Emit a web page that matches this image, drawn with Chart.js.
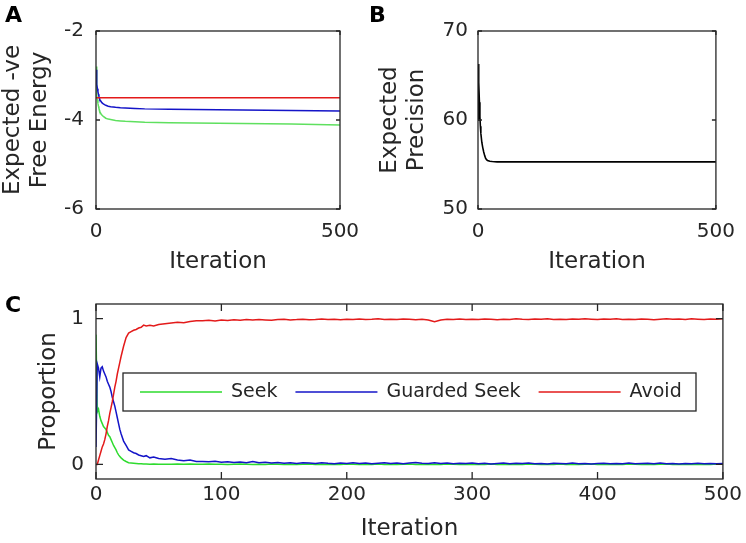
<!DOCTYPE html>
<html><head><meta charset="utf-8">
<script src="https://cdn.jsdelivr.net/npm/chart.js@4.4.0/dist/chart.umd.min.js"></script>
<style>
html,body{margin:0;padding:0;background:#fff;}
body{width:746px;height:543px;position:relative;overflow:hidden;font-family:'DejaVu Sans';}
canvas{position:absolute;}
.lab{position:absolute;font:bold 22px 'DejaVu Sans';line-height:1;color:#000;}
</style></head><body>
<canvas id="cA" width="375" height="290" style="left:-2px;top:0px"></canvas>
<canvas id="cB" width="373" height="290" style="left:373px;top:0px"></canvas>
<canvas id="cC" width="746" height="263" style="left:0px;top:280px"></canvas>
<div class="lab" style="left:5px;top:4px">A</div>
<div class="lab" style="left:369px;top:4px">B</div>
<div class="lab" style="left:5px;top:294px">C</div>
<script>
// ---- Panel A: expected negative free energy ----
const itersA = [0,1,2,3,4,5,6,8,10,12,15,20,25,30,40,50,60,80,100,150,200,250,300,350,400,450,500];
const energySeek = [-2.8,-3.3,-3.45,-3.55,-3.63,-3.69,-3.74,-3.81,-3.86,-3.89,-3.92,-3.96,-3.98,-3.99,-4.01,-4.02,-4.03,-4.04,-4.05,-4.06,-4.07,-4.075,-4.08,-4.085,-4.09,-4.1,-4.11];
const energyGuarded = [-2.87,-3.08,-3.2,-3.3,-3.37,-3.42,-3.47,-3.54,-3.58,-3.61,-3.64,-3.67,-3.69,-3.70,-3.715,-3.725,-3.73,-3.74,-3.75,-3.76,-3.765,-3.77,-3.775,-3.78,-3.785,-3.79,-3.80];
const energyAvoid = [-3.5,-3.5,-3.5,-3.5,-3.5,-3.5,-3.5,-3.5,-3.5,-3.5,-3.5,-3.5,-3.5,-3.5,-3.5,-3.5,-3.5,-3.5,-3.5,-3.5,-3.5,-3.5,-3.5,-3.5,-3.5,-3.5,-3.5];
const xTicksA = [0,500];
const yTicksA = [-6,-4,-2];

// ---- Panel B: expected precision ----
const itersB = [0,1,2,3,4,5,6,8,10,12,14,16,18,20,25,30,40,60,100,200,300,400,500];
const precision = [60.0,66.3,64.2,62.0,60.4,59.3,58.5,57.5,56.9,56.4,56.0,55.7,55.55,55.45,55.37,55.33,55.3,55.3,55.3,55.3,55.3,55.3,55.3];
const xTicksB = [0,500];
const yTicksB = [50,60,70];

// ---- Panel C: proportion of policies ----
const itersC = [0,1,2,3,4,5,6,7,8,9,10,11,12,13,14,15,16,17,18,19,20,
  22,24,26,28,30,32,34,36,38,40,43,46,50,
  55,60,65,70,75,80,85,90,95,100,105,110,115,120,125,130,135,140,145,150,155,160,165,170,175,180,185,190,195,200,
  205,210,215,220,225,230,235,240,245,250,255,260,265,270,275,280,285,290,295,300,305,310,315,320,325,330,335,340,345,350,
  355,360,365,370,375,380,385,390,395,400,405,410,415,420,425,430,435,440,445,450,455,460,465,470,475,480,485,490,495,500];
const propSeek = [0.89,0.36,0.38,0.33,0.30,0.28,0.26,0.25,0.24,0.22,0.20,0.19,0.17,0.15,0.13,0.115,0.10,0.08,0.065,0.055,0.045,
  0.03,0.02,0.012,0.01,0.008,0.006,0.004,0.005,0.003,0.003,0.002,0.003,0.002,
  0.002,0.001,0.002,0.001,0.002,0.001,0.001,0.002,0.001,0.001,0,0.001,0.002,0.001,0,0.001,0,0.002,0.001,0,0.001,0,0.001,0.002,0,0.001,0,0.001,0,0.002,
  0.001,0,0.001,0,0.002,0,0.001,0,0.001,0.002,0,0.001,0,0.001,0,0.002,0.001,0,0.001,0,0.001,0,0.002,0,0.001,0,0.001,0,0.002,0.001,
  0,0.001,0,0.002,0,0.001,0,0.001,0.002,0,0.001,0,0.001,0,0.002,0.001,0,0.001,0,0.001,0.002,0,0.001,0,0.001,0,0.001,0,0.002,0.001];
const propGuarded = [0.12,0.69,0.66,0.60,0.66,0.67,0.64,0.62,0.60,0.57,0.55,0.53,0.50,0.46,0.43,0.40,0.36,0.32,0.28,0.24,0.21,
  0.16,0.13,0.10,0.09,0.08,0.075,0.065,0.06,0.055,0.06,0.045,0.05,0.04,
  0.035,0.04,0.03,0.025,0.03,0.02,0.02,0.018,0.022,0.015,0.019,0.013,0.017,0.012,0.02,0.011,0.014,0.009,0.013,0.008,0.012,0.007,0.011,0.009,0.006,0.012,0.008,0.005,0.01,0.007,
  0.011,0.006,0.009,0.004,0.008,0.012,0.007,0.01,0.005,0.009,0.013,0.008,0.006,0.011,0.007,0.009,0.004,0.008,0.006,0.01,0.005,0.008,0.003,0.007,0.009,0.004,0.008,0.006,0.01,0.005,
  0.007,0.003,0.008,0.006,0.004,0.009,0.005,0.007,0.003,0.006,0.008,0.004,0.007,0.005,0.009,0.004,0.006,0.008,0.005,0.01,0.004,0.006,0.003,0.007,0.005,0.008,0.004,0.006,0.005,0.007];
const propAvoid = [0,0,0.03,0.06,0.09,0.12,0.14,0.17,0.21,0.26,0.30,0.35,0.39,0.43,0.48,0.53,0.57,0.62,0.66,0.70,0.74,
  0.81,0.87,0.90,0.91,0.92,0.925,0.935,0.94,0.955,0.95,0.955,0.95,0.96,
  0.965,0.97,0.975,0.972,0.98,0.985,0.985,0.988,0.983,0.99,0.987,0.992,0.989,0.993,0.99,0.994,0.991,0.988,0.993,0.995,0.991,0.993,0.996,0.992,0.994,0.997,0.993,0.995,0.992,0.996,
  0.994,0.997,0.993,0.995,0.998,0.994,0.996,0.993,0.997,0.995,0.992,0.996,0.99,0.978,0.99,0.995,0.993,0.997,0.994,0.996,0.993,0.997,0.995,0.992,0.996,0.994,0.998,0.995,0.993,0.997,
  0.995,0.998,0.994,0.996,0.993,0.997,0.995,0.998,0.996,0.993,0.997,0.995,0.998,0.994,0.996,0.993,0.997,0.995,0.992,0.996,0.998,0.995,0.997,0.994,0.998,0.996,0.993,0.997,0.995,0.998];
const xTicksC = [0,100,200,300,400,500];
const yTicksC = [0,1];
const seriesNames = ['Seek','Guarded Seek','Avoid'];

// ---- helpers ----
const INK = '#262626';
const FONT = 'DejaVu Sans';
Chart.defaults.font.family = FONT;
Chart.defaults.color = INK;

const pts = (xs, ys) => xs.map((x, i) => ({x: x, y: ys[i]}));

const boxPlugin = {
  id: 'box',
  afterDatasetsDraw(chart, args, o) {
    const {ctx, chartArea: a, scales} = chart;
    ctx.save();
    ctx.strokeStyle = INK; ctx.lineWidth = 1.3;
    ctx.strokeRect(a.left, a.top, a.right - a.left, a.bottom - a.top);
    const L = o.tickLen;
    ctx.beginPath();
    scales.x.ticks.forEach(t => {
      const p = scales.x.getPixelForValue(t.value);
      ctx.moveTo(p, a.bottom); ctx.lineTo(p, a.bottom - L);
      ctx.moveTo(p, a.top); ctx.lineTo(p, a.top + L);
    });
    scales.y.ticks.forEach(t => {
      const p = scales.y.getPixelForValue(t.value);
      ctx.moveTo(a.left, p); ctx.lineTo(a.left + L, p);
      ctx.moveTo(a.right, p); ctx.lineTo(a.right - L, p);
    });
    ctx.stroke();
    ctx.restore();
  }
};

const legendBox = {
  id: 'legendBox',
  afterDraw(chart, args, o) {
    if (!o || !o.show) return;
    const {ctx, chartArea: a} = chart;
    const x0 = a.left + o.dx, y0 = a.top + o.dy;
    ctx.save();
    ctx.fillStyle = '#fff'; ctx.fillRect(x0, y0, o.w, o.h);
    ctx.strokeStyle = INK; ctx.lineWidth = 1.3; ctx.strokeRect(x0, y0, o.w, o.h);
    ctx.font = o.fontSize + 'px "' + FONT + '"';
    ctx.textBaseline = 'middle'; ctx.textAlign = 'left';
    let x = x0 + o.padL; const cy = y0 + o.h / 2;
    chart.data.datasets.forEach(d => {
      ctx.strokeStyle = d.borderColor; ctx.lineWidth = d.borderWidth;
      ctx.beginPath(); ctx.moveTo(x, cy); ctx.lineTo(x + o.lineLen, cy); ctx.stroke();
      x += o.lineLen + o.gapText;
      ctx.fillStyle = INK;
      ctx.fillText(d.label, x, cy);
      x += ctx.measureText(d.label).width + o.gapItem;
    });
    ctx.restore();
  }
};

function makeChart(id, datasets, s) {
  return new Chart(document.getElementById(id), {
    type: 'line',
    data: {datasets: datasets},
    plugins: [boxPlugin, legendBox],
    options: {
      responsive: false, animation: false, devicePixelRatio: 1,
      elements: {point: {radius: 0}, line: {tension: 0}},
      layout: {padding: s.pad},
      plugins: {legend: {display: false}, tooltip: {enabled: false},
        box: {tickLen: s.tickLen}, legendBox: s.legend || {show: false}},
      scales: {
        x: {
          type: 'linear', min: s.xMin, max: s.xMax,
          afterBuildTicks: sc => { sc.ticks = s.xTicks.map(v => ({value: v})); },
          afterFit: sc => { sc.height = s.xH; },
          grid: {display: false, drawTicks: false}, border: {display: false},
          ticks: {font: {size: 20}, color: INK, padding: s.xPad, maxRotation: 0, autoSkip: false},
          title: {display: true, text: 'Iteration', font: {size: 23}, color: INK, padding: {top: 0, bottom: s.xTitlePad}}
        },
        y: {
          type: 'linear', min: s.yMin, max: s.yMax,
          afterBuildTicks: sc => { sc.ticks = s.yTicks.map(v => ({value: v})); },
          afterFit: sc => { sc.width = s.yW; },
          grid: {display: false, drawTicks: false}, border: {display: false},
          ticks: {font: {size: 20}, color: INK, padding: s.yPad, autoSkip: false},
          title: {display: true, text: s.yTitle, font: {size: 23, lineHeight: 1.2}, color: INK, padding: {top: s.yTitlePad, bottom: 0}}
        }
      }
    }
  });
}

const GREEN_A = '#5fe05f', GREEN = '#2edb2e', BLUE = '#1414c8', RED = '#e31a1a';

makeChart('cA', [
  {label: seriesNames[0], data: pts(itersA, energySeek), borderColor: GREEN_A, borderWidth: 1.5, order: 3},
  {label: seriesNames[1], data: pts(itersA, energyGuarded), borderColor: BLUE, borderWidth: 1.5, order: 2},
  {label: seriesNames[2], data: pts(itersA, energyAvoid), borderColor: RED, borderWidth: 1.5, order: 1}
], {pad: {left: 0, top: 31, right: 33, bottom: 0}, tickLen: 4, xMin: 0, xMax: 500, yMin: -6, yMax: -2,
   xTicks: xTicksA, yTicks: yTicksA, xH: 81, yW: 98, xPad: 11, yPad: 12, xTitlePad: 14, yTitlePad: 1,
   yTitle: ['Expected -ve', 'Free Energy']});

makeChart('cB', [
  {label: 'Precision', data: pts(itersB, precision), borderColor: '#000', borderWidth: 1.6}
], {pad: {left: 0, top: 31, right: 23, bottom: 0}, tickLen: 4, xMin: 0, xMax: 500, yMin: 50, yMax: 70,
   xTicks: xTicksB, yTicks: yTicksB, xH: 81, yW: 105, xPad: 11, yPad: 10, xTitlePad: 14, yTitlePad: 3,
   yTitle: ['Expected', 'Precision']});

makeChart('cC', [
  {label: seriesNames[0], data: pts(itersC, propSeek), borderColor: GREEN, borderWidth: 1.5, order: 3},
  {label: seriesNames[1], data: pts(itersC, propGuarded), borderColor: BLUE, borderWidth: 1.5, order: 2},
  {label: seriesNames[2], data: pts(itersC, propAvoid), borderColor: RED, borderWidth: 1.5, order: 1}
], {pad: {left: 0, top: 21, right: 23, bottom: 0}, tickLen: 7, xMin: 0, xMax: 500, yMin: -0.1, yMax: 1.1,
   xTicks: xTicksC, yTicks: yTicksC, xH: 64, yW: 96, xPad: 4, yPad: 12, xTitlePad: 0, yTitlePad: 35,
   yTitle: 'Proportion',
   legend: {show: true, dx: 27, dy: 69, w: 573, h: 38, padL: 17, lineLen: 82, gapText: 9, gapItem: 18, fontSize: 19}});
</script>
</body></html>
